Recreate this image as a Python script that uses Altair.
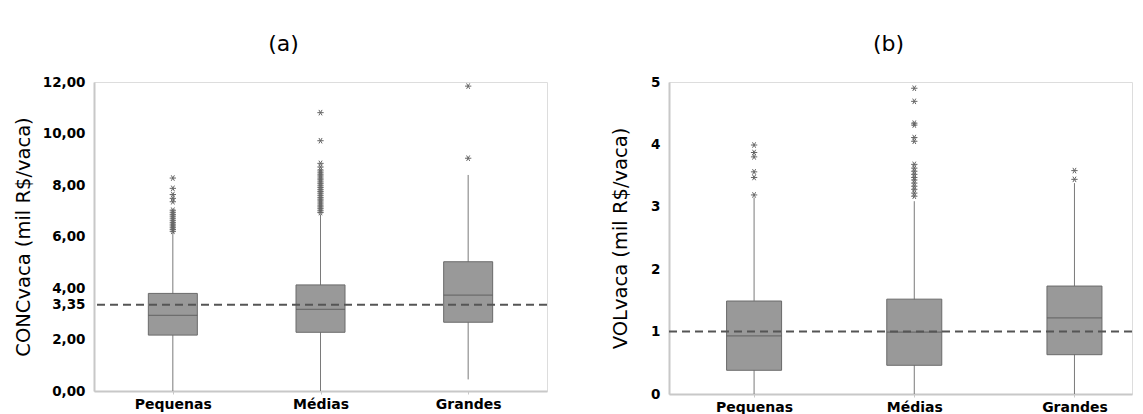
import altair as alt
import pandas as pd

categories = ["Pequenas", "Médias", "Grandes"]

# (a) CONCvaca (mil R$/vaca)
conc_wlo = [0.00, 0.00, 0.45]
conc_q1 = [2.17, 2.28, 2.67]
conc_med = [2.94, 3.17, 3.72]
conc_q3 = [3.79, 4.12, 5.02]
conc_whi = [6.15, 6.86, 8.39]
conc_out_peq = [8.27, 7.87, 7.63, 7.48, 7.35, 7.02, 6.94, 6.86, 6.79, 6.71, 6.63,
                6.55, 6.48, 6.41, 6.34, 6.27, 6.20]
conc_out_med = [10.81, 9.72, 8.84, 8.70, 8.58, 8.50, 8.42, 8.35, 8.27, 8.20, 8.12,
                8.05, 7.97, 7.90, 7.82, 7.75, 7.68, 7.60, 7.52, 7.45, 7.38, 7.30,
                7.22, 7.15, 7.08, 7.00, 6.93]
conc_out_gra = [11.84, 9.04]
conc_ref = 3.35
conc_ticks = [0, 2, 3.35, 4, 6, 8, 10, 12]

# (b) VOLvaca (mil R$/vaca)
vol_wlo = [0.00, 0.00, 0.00]
vol_q1 = [0.38, 0.46, 0.63]
vol_med = [0.93, 0.99, 1.22]
vol_q3 = [1.49, 1.52, 1.73]
vol_whi = [3.15, 3.09, 3.38]
vol_out_peq = [3.99, 3.87, 3.80, 3.56, 3.47, 3.19]
vol_out_med = [4.90, 4.69, 4.34, 4.31, 4.11, 4.05, 3.68, 3.62, 3.57, 3.52, 3.47,
               3.43, 3.38, 3.33, 3.28, 3.22, 3.17]
vol_out_gra = [3.58, 3.44]
vol_ref = 1.0
vol_ticks = [0, 1, 2, 3, 4, 5]

FONT = "DejaVu Sans"
STAR = "M-1,0L1,0M-0.5,-0.866L0.5,0.866M-0.5,0.866L0.5,-0.866"
label_expr = "[" + ",".join("'" + c + "'" for c in categories) + "][datum.value]"


def panel(wlo, q1, med, q3, whi, outs, ref, ticks, ytitle, dmax, width, height,
          xdom, boxw, title, tdx, yfmt, tpad):
    box = pd.DataFrame({"pos": list(range(len(categories))), "cat": categories,
                        "wlo": wlo, "q1": q1, "med": med, "q3": q3, "whi": whi})
    orows = []
    for i, lst in enumerate(outs):
        for v in lst:
            orows.append({"pos": i, "cat": categories[i], "v": v})
    odf = pd.DataFrame(orows)

    x = alt.X("pos:Q", scale=alt.Scale(domain=xdom, nice=False, zero=False),
              axis=alt.Axis(values=list(range(len(categories))), labelExpr=label_expr,
                            title=None, grid=False, labelFont=FONT, labelFontWeight="bold",
                            labelFontSize=14, labelColor="#000", labelPadding=3,
                            tickSize=3, tickColor="#c8c8c8", domainColor="#c8c8c8",
                            domainWidth=2, labelFlush=False))
    yscale = alt.Scale(domain=[0, dmax], nice=False)
    yaxis = alt.Axis(values=ticks, labelExpr=yfmt, title=ytitle, grid=False,
                     ticks=False, labelFont=FONT, labelFontWeight="bold",
                     labelFontSize=13.5, labelColor="#000", labelPadding=9,
                     labelOverlap=False, labelFlush=False,
                     titleFont=FONT, titleFontWeight="normal", titleFontSize=19.5,
                     titleColor="#000", titlePadding=tpad,
                     domainColor="#c8c8c8", domainWidth=2)

    base = alt.Chart(box)
    whisk = base.mark_rule(color="#7a7a7a", strokeWidth=1).encode(
        x=x, y=alt.Y("wlo:Q", scale=yscale, axis=yaxis), y2="whi:Q")
    bars = base.mark_bar(size=boxw, fill="#999999", stroke="#6a6a6a",
                         strokeWidth=1).encode(x="pos:Q", y="q1:Q", y2="q3:Q")
    meds = base.mark_tick(orient="horizontal", size=boxw, thickness=1.2,
                          color="#5a5a5a").encode(x="pos:Q", y="med:Q")
    pts = alt.Chart(odf).mark_point(shape=STAR, size=40, filled=False,
                                    color="#666666", strokeWidth=1,
                                    opacity=1).encode(x="pos:Q", y="v:Q")
    refl = alt.Chart(pd.DataFrame({"r": [ref]})).mark_rule(
        strokeDash=[8, 5], strokeWidth=2, color="#555555").encode(y="r:Q")

    return alt.layer(whisk, bars, meds, pts, refl).properties(
        width=width, height=height,
        title=alt.TitleParams(title, font=FONT, fontSize=22, fontWeight="normal",
                              color="#000", anchor="middle", dx=tdx, offset=19))


fmt2 = "replace(format(datum.value, '.2f'), '.', ',')"
left = panel(conc_wlo, conc_q1, conc_med, conc_q3, conc_whi,
             [conc_out_peq, conc_out_med, conc_out_gra], conc_ref, conc_ticks,
             "CONCvaca (mil R$/vaca)", 12, 453, 309, [-0.5, 2.5], 49, "(a)", -37, fmt2, 9)
right = panel(vol_wlo, vol_q1, vol_med, vol_q3, vol_whi,
              [vol_out_peq, vol_out_med, vol_out_gra], vol_ref, vol_ticks,
              "VOLvaca (mil R$/vaca)", 5, 463, 312, [-0.5, 2.328], 55, "(b)", -12,
              "format(datum.value, 'd')", 20)

chart = alt.hconcat(left, right, spacing=61).properties(
    padding={"left": 4, "top": 24, "right": 0, "bottom": 0}
).configure_view(stroke=None).configure(background="white")

chart.save("out.html", embed_options={"renderer": "svg", "actions": False})
